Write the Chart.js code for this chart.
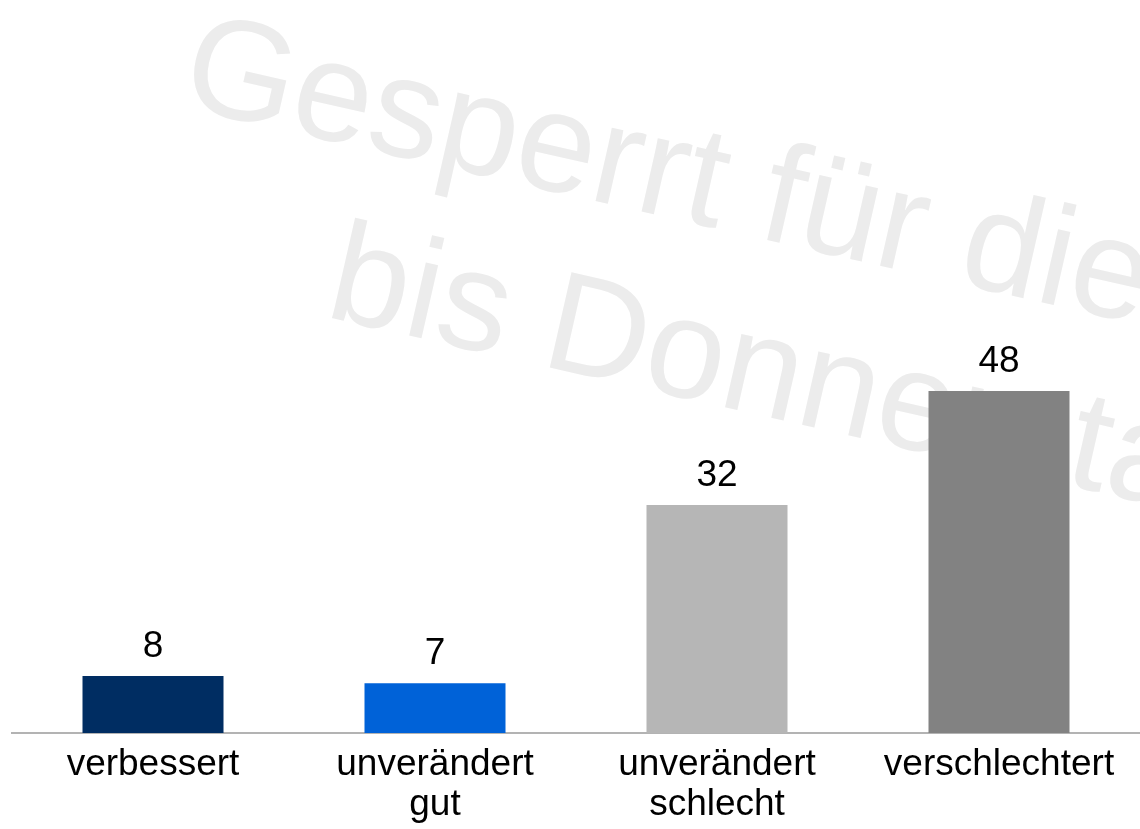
<!DOCTYPE html>
<html>
<head>
<meta charset="utf-8">
<script src="https://cdn.jsdelivr.net/npm/chart.js@4.4.1/dist/chart.umd.min.js"></script>
<style>
  html, body { margin: 0; padding: 0; background: #ffffff; }
  #wrap { width: 1140px; height: 829px; position: relative; }
</style>
</head>
<body>
<div id="wrap"><canvas id="c" width="1140" height="829"></canvas></div>
<script>
const categories = [["verbessert"], ["unverändert", "gut"], ["unverändert", "schlecht"], ["verschlechtert"]];
const values = [8, 7, 32, 48];
const barColors = ["#002d62", "#0062d8", "#b6b6b6", "#828282"];
const watermarkLines = ["Gesperrt für die", "bis Donnerstag"];

const FONT = "'Liberation Sans', Arial, Helvetica, sans-serif";

const watermarkPlugin = {
  id: 'watermark',
  beforeDatasetsDraw(chart) {
    const ctx = chart.ctx;
    ctx.save();
    ctx.fillStyle = '#ececec';
    ctx.font = '142px ' + FONT;
    ctx.textBaseline = 'alphabetic';
    ctx.textAlign = 'left';
    ctx.rotate(12.8 * Math.PI / 180);
    ctx.fillText(watermarkLines[0], 197, 64);
    ctx.fillText(watermarkLines[1], 385, 236.5);
    ctx.restore();
  }
};

const valueLabelPlugin = {
  id: 'valueLabels',
  afterDatasetsDraw(chart) {
    const ctx = chart.ctx;
    const meta = chart.getDatasetMeta(0);
    ctx.save();
    ctx.fillStyle = '#000000';
    ctx.font = '37px ' + FONT;
    ctx.textAlign = 'center';
    ctx.textBaseline = 'alphabetic';
    meta.data.forEach((bar, i) => {
      ctx.fillText(String(values[i]), bar.x, bar.y - 19);
    });
    ctx.restore();
  }
};

new Chart(document.getElementById('c'), {
  type: 'bar',
  data: {
    labels: categories,
    datasets: [{
      data: values,
      backgroundColor: barColors,
      borderWidth: 0,
      barPercentage: 0.5,
      categoryPercentage: 1.0
    }]
  },
  options: {
    responsive: false,
    animation: false,
    devicePixelRatio: 1,
    layout: { padding: { top: 20.5, left: 12, right: 0, bottom: 0 } },
    plugins: {
      legend: { display: false },
      tooltip: { enabled: false }
    },
    scales: {
      x: {
        grid: { display: false, drawTicks: false },
        border: { display: true, color: '#b3b3b3', width: 2 },
        ticks: {
          color: '#000000',
          font: { family: FONT, size: 37, lineHeight: 1.08 },
          padding: 12,
          maxRotation: 0,
          autoSkip: false
        },
        afterFit(scale) { scale.height = 96; }
      },
      y: {
        display: false,
        min: 0,
        max: 100
      }
    }
  },
  plugins: [watermarkPlugin, valueLabelPlugin]
});
</script>
</body>
</html>
